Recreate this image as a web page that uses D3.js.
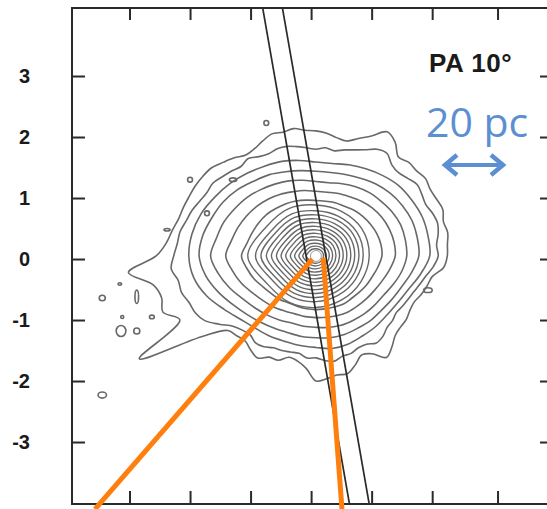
<!DOCTYPE html>
<html><head><meta charset="utf-8">
<script src="https://cdn.jsdelivr.net/npm/d3@7"></script>
<style>body{margin:0;background:#fff}svg{display:block}</style>
</head><body>
<script>
// ---- data (axis units, arcsec) ----
const yTicks = [3, 2, 1, 0, -1, -2, -3];
const yTickLabels = ["3", "2", "1", "0", "-1", "-2", "-3"];
const xTicks = [-3, -2, -1, 0, 1, 2, 3.08];
const nucleus = [0.08, 0.05];
const slitPA = 10;          // degrees
const slitHalfWidth = 0.163;
const paLabel = "PA 10°";
const scaleLabel = "20 pc";

// outermost contour: radius every 5 degrees (angle 0 = right, counter-clockwise)
const contour1 = [2.17,2.18,2.21,2.18,2.23,2.20,2.18,2.21,2.17,2.17,2.12,2.28,2.35,2.17,2.05,1.95,1.97,2.02,
  2.05,2.07,2.12,2.10,2.13,2.08,2.03,2.02,2.10,2.17,2.25,2.28,2.30,2.31,2.33,2.35,2.41,2.48,
  2.64,3.11,2.73,2.64,2.69,2.48,3.37,2.31,1.90,1.85,1.82,1.88,1.93,1.83,1.82,1.72,1.75,1.85,
  2.05,2.02,1.98,2.00,1.90,1.79,1.85,2.03,1.95,1.85,1.82,1.82,1.79,1.79,1.85,1.90,1.95,2.12];
const contour2 = [2.02,2.00,2.05,2.08,2.05,2.00,2.02,2.04,1.98,1.93,1.95,2.05,2.02,1.92,1.85,1.80,1.75,1.78,
  1.75,1.78,1.82,1.86,1.87,1.85,1.88,1.95,1.92,1.97,2.02,2.08,2.08,2.12,2.18,2.22,2.28,2.30,
  2.35,2.40,2.31,2.30,2.23,2.20,2.12,1.95,1.79,1.72,1.69,1.74,1.72,1.66,1.65,1.63,1.62,1.68,
  1.67,1.72,1.75,1.70,1.70,1.66,1.67,1.74,1.72,1.66,1.65,1.62,1.65,1.68,1.72,1.78,1.85,1.95];
// next contours: radius every 10 degrees
const contour3 = [1.88,1.88,1.87,1.83,1.79,1.72,1.65,1.59,1.54,1.54,1.59,1.65,1.70,1.77,1.85,1.93,2.02,2.08,
  2.10,2.05,1.92,1.75,1.62,1.55,1.52,1.49,1.49,1.50,1.54,1.54,1.52,1.52,1.52,1.55,1.62,1.75];
const contour4 = [1.70,1.70,1.69,1.65,1.60,1.54,1.47,1.42,1.39,1.39,1.42,1.47,1.54,1.60,1.69,1.77,1.83,1.90,
  1.93,1.85,1.72,1.59,1.49,1.42,1.37,1.34,1.34,1.34,1.36,1.37,1.37,1.39,1.40,1.44,1.50,1.60];
const contour5 = [1.50,1.50,1.49,1.45,1.40,1.36,1.31,1.26,1.22,1.22,1.26,1.31,1.36,1.42,1.49,1.55,1.62,1.67,
  1.74,1.64,1.52,1.40,1.32,1.26,1.21,1.17,1.17,1.17,1.19,1.21,1.22,1.24,1.26,1.29,1.36,1.44];
const contour6 = [1.31,1.31,1.29,1.26,1.22,1.17,1.12,1.09,1.06,1.06,1.09,1.12,1.17,1.22,1.27,1.32,1.37,1.42,
  1.49,1.40,1.31,1.21,1.14,1.09,1.04,1.01,1.01,1.01,1.02,1.04,1.06,1.07,1.09,1.12,1.17,1.24];
const contour7 = [1.09,1.09,1.07,1.04,1.01,0.98,0.94,0.93,0.91,0.91,0.93,0.96,0.99,1.02,1.06,1.09,1.12,1.16,
  1.23,1.16,1.09,1.01,0.96,0.93,0.89,0.88,0.88,0.88,0.88,0.89,0.91,0.91,0.93,0.96,0.99,1.04];
// inner rings: common shape (every 30 degrees) and east radius of each ring
const innerShape = [1.00,1.00,0.96,0.95,1.02,1.08,1.28,1.05,1.00,0.96,0.95,0.97];
const innerRadii = [0.88,0.78,0.71,0.64,0.575,0.51,0.45,0.39,0.33,0.275,0.22,0.17,0.125];
// small isolated contour islands: [x, y, rx, ry]
const islands = [[-3.45,-0.64,0.05,0.045],[-3.16,-0.41,0.03,0.02],[-2.88,-0.62,0.03,0.11],[-2.63,-0.95,0.04,0.03],
  [-3.14,-1.18,0.08,0.09],[-3.12,-0.95,0.025,0.025],[-2.88,-1.18,0.05,0.05],[-3.45,-2.23,0.07,0.05],
  [-2.0,1.30,0.04,0.04],[-1.29,1.30,0.06,0.03],[-0.74,2.23,0.04,0.04],[1.93,-0.51,0.07,0.04],
  [-1.72,0.75,0.04,0.04],[-2.38,0.48,0.05,0.02]];
// orange lines [[x0,y0],[x1,y1]]
const orangeLines = [[[0.02,0.0],[-3.57,-4.10]],[[0.20,0.02],[0.51,-4.10]]];

// ---- chart ----
const W = 547, H = 509;
const svg = d3.select("body").append("svg").attr("width", W).attr("height", H);
const x = d3.scaleLinear().domain([-3.95, 3.93]).range([72, 549]);
const y = d3.scaleLinear().domain([-4.016, 4.115]).range([504, 8]);

svg.append("clipPath").attr("id","plot").append("rect")
  .attr("x", x.range()[0]).attr("y", y.range()[1])
  .attr("width", x.range()[1]-x.range()[0]).attr("height", y.range()[0]-y.range()[1]);

const g = svg.append("g").attr("clip-path","url(#plot)");
const line = d3.line().curve(d3.curveCatmullRomClosed.alpha(0.5));
function polar(radii) {
  const n = radii.length;
  return radii.map((r, i) => {
    const a = i / n * 2 * Math.PI;
    return [x(nucleus[0] + r * Math.cos(a)), y(nucleus[1] + r * Math.sin(a))];
  });
}
const contourColor = "#686868";
[contour1, contour2, contour3, contour4, contour5, contour6, contour7].forEach(c => {
  g.append("path").attr("d", line(polar(c))).attr("fill","none")
    .attr("stroke", contourColor).attr("stroke-width", 1.6).attr("stroke-linejoin","round");
});
innerRadii.forEach(s => {
  g.append("path").attr("d", line(polar(innerShape.map(v => v * s)))).attr("fill","none")
    .attr("stroke", contourColor).attr("stroke-width", 1.4);
});
islands.forEach(d => {
  g.append("ellipse").attr("cx", x(d[0])).attr("cy", y(d[1]))
    .attr("rx", x(d[2]) - x(0)).attr("ry", y(0) - y(d[3]))
    .attr("fill","none").attr("stroke", contourColor).attr("stroke-width", 1.6);
});
// nucleus hole
g.append("ellipse").attr("cx", x(nucleus[0])).attr("cy", y(nucleus[1]))
  .attr("rx", x(0.09)-x(0)).attr("ry", y(0)-y(0.09))
  .attr("fill","#fff").attr("stroke","#999").attr("stroke-width",1);

// slit
const t = Math.tan(slitPA * Math.PI / 180);
[-slitHalfWidth, slitHalfWidth].forEach(s => {
  const ys = [-4.6, 4.6];
  const pts = ys.map(yy => [x(nucleus[0] - t * (yy - nucleus[1]) + s), y(yy)]);
  g.append("line").attr("x1", pts[0][0]).attr("y1", pts[0][1]).attr("x2", pts[1][0]).attr("y2", pts[1][1])
    .attr("stroke","#2a2a2a").attr("stroke-width",1.7);
});

// frame and ticks
const frameColor = "#2a2a2a";
svg.append("rect").attr("x", 72).attr("y", 8).attr("width", 549-72).attr("height", 504-8)
  .attr("fill","none").attr("stroke", frameColor).attr("stroke-width", 2);
const yAxisL = d3.axisLeft(y).tickValues(yTicks).tickSize(-13).tickFormat("");
const yAxisR = d3.axisRight(y).tickValues(yTicks).tickSize(-9).tickFormat("");
const xAxisT = d3.axisTop(x).tickValues(xTicks).tickSize(-12).tickFormat("");
const xAxisB = d3.axisBottom(x).tickValues(xTicks).tickSize(-13).tickFormat("");
function styleAxis(sel){ sel.select(".domain").remove(); sel.selectAll("line").attr("stroke", frameColor).attr("stroke-width",2); }
svg.append("g").attr("transform","translate(72,0)").call(yAxisL).call(styleAxis);
svg.append("g").attr("transform","translate(549,0)").call(yAxisR).call(styleAxis);
svg.append("g").attr("transform","translate(0,8)").call(xAxisT).call(styleAxis);
svg.append("g").attr("transform","translate(0,504)").call(xAxisB).call(styleAxis);

// y tick labels
svg.append("g").selectAll("text").data(yTicks).join("text")
  .attr("x", 30).attr("y", d => y(d)).attr("dy","0.36em")
  .attr("text-anchor","end").attr("font-family","Liberation Sans, Arial, sans-serif")
  .attr("font-weight","bold").attr("font-size", 20).attr("fill","#1a1a1a")
  .text((d,i) => yTickLabels[i]);

// orange lines
orangeLines.forEach(l => {
  svg.append("line").attr("x1", x(l[0][0])).attr("y1", y(l[0][1]))
    .attr("x2", x(l[1][0])).attr("y2", y(l[1][1]))
    .attr("stroke","#ff7f0e").attr("stroke-width",5);
});

// annotations
svg.append("text").attr("x", 429).attr("y", 72)
  .attr("font-family","Liberation Sans, Arial, sans-serif").attr("font-weight","bold")
  .attr("font-size", 26).attr("letter-spacing", 0.6).attr("fill","#1a1a1a").text(paLabel);
const blue = "#5b8fd2";
svg.append("text").attr("x", 426).attr("y", 137)
  .attr("font-family","Open Sans, sans-serif").attr("font-size", 41).attr("fill", blue).text(scaleLabel);
const ay = 165;
svg.append("line").attr("x1", 446).attr("y1", ay).attr("x2", 502).attr("y2", ay)
  .attr("stroke", blue).attr("stroke-width", 4);
svg.append("polyline").attr("points", `457,155 445,${ay} 457,175`).attr("fill","none")
  .attr("stroke", blue).attr("stroke-width", 4.5);
svg.append("polyline").attr("points", `491,155 503,${ay} 491,175`).attr("fill","none")
  .attr("stroke", blue).attr("stroke-width", 4.5);
</script>
</body></html>
